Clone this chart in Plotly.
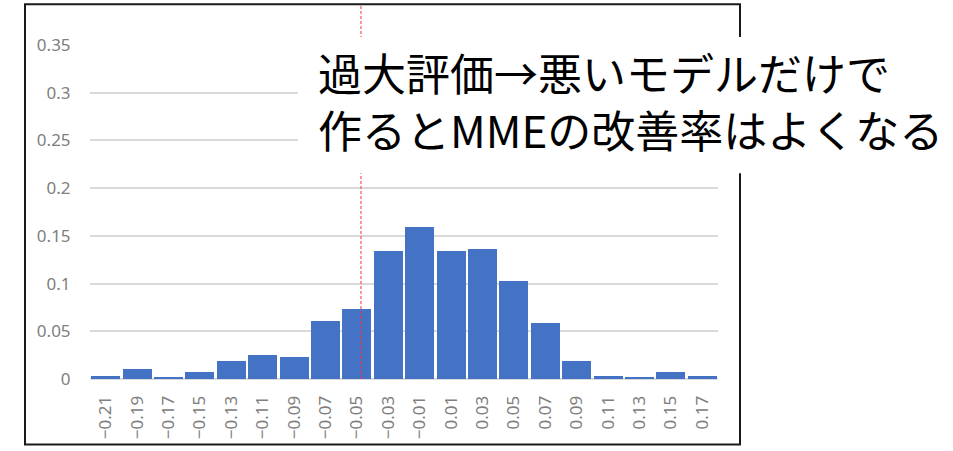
import plotly.graph_objects as go

# Histogram bins (bin centres) and relative frequencies
bin_centers = [-0.21, -0.19, -0.17, -0.15, -0.13, -0.11, -0.09, -0.07, -0.05, -0.03,
               -0.01, 0.01, 0.03, 0.05, 0.07, 0.09, 0.11, 0.13, 0.15, 0.17]
frequencies = [0.003, 0.011, 0.002, 0.007, 0.019, 0.025, 0.023, 0.061, 0.073, 0.134,
               0.159, 0.134, 0.136, 0.103, 0.059, 0.019, 0.003, 0.002, 0.007, 0.003]
tick_labels = ["−0.21", "−0.19", "−0.17", "−0.15", "−0.13", "−0.11", "−0.09", "−0.07",
               "−0.05", "−0.03", "−0.01", "0.01", "0.03", "0.05", "0.07", "0.09",
               "0.11", "0.13", "0.15", "0.17"]
reference_value = -0.0474
caption_lines = ["過大評価→悪いモデルだけで", "作るとMMEの改善率はよくなる"]

W, H = 953, 451
PLOT_L, PLOT_R, PLOT_T, PLOT_B = 90, 718, 45, 381


def px_x(px):
    return (px - PLOT_L) / (PLOT_R - PLOT_L)


def px_y(py):
    return (PLOT_B - py) / (PLOT_B - PLOT_T)


fig = go.Figure(
    go.Bar(
        x=bin_centers,
        y=frequencies,
        width=0.0185,
        marker=dict(color="#4472C4", line=dict(width=0)),
        hoverinfo="x+y",
    )
)

axis_font = dict(family="Noto Sans, DejaVu Sans, sans-serif", color="#808080")

fig.update_layout(
    width=W,
    height=H,
    margin=dict(l=PLOT_L, r=W - PLOT_R, t=PLOT_T, b=H - PLOT_B),
    paper_bgcolor="white",
    plot_bgcolor="white",
    showlegend=False,
    bargap=0,
    xaxis=dict(
        range=[-0.22, 0.18],
        tickmode="array",
        tickvals=bin_centers,
        ticktext=tick_labels,
        tickangle=-90,
        tickfont=dict(size=17, **axis_font),
        ticks="outside",
        ticklen=9,
        tickcolor="white",
        showgrid=False,
        zeroline=False,
        showline=False,
    ),
    yaxis=dict(
        range=[0, 0.35],
        dtick=0.05,
        tickfont=dict(size=17, **axis_font),
        ticks="outside",
        ticklen=15,
        tickcolor="white",
        showgrid=True,
        gridcolor="#d9d9d9",
        gridwidth=1.5,
        zeroline=True,
        zerolinecolor="#d9d9d9",
        zerolinewidth=1.5,
        showline=False,
    ),
)

shapes = [
    # outer chart frame
    dict(type="rect", xref="paper", yref="paper",
         x0=px_x(25), x1=px_x(740), y0=px_y(447), y1=px_y(4),
         line=dict(color="#1a1a1a", width=2), fillcolor="rgba(0,0,0,0)", layer="above"),
    # reference value marker
    dict(type="line", xref="x", yref="paper",
         x0=reference_value, x1=reference_value, y0=0, y1=px_y(4),
         line=dict(color="#ff3030", width=1, dash="3px,2px"), layer="above"),
    # white backdrop for the caption
    dict(type="rect", xref="paper", yref="paper",
         x0=px_x(298), x1=px_x(960), y0=px_y(174), y1=px_y(37),
         line=dict(width=0), fillcolor="white", layer="above"),
]
fig.update_layout(shapes=shapes)

fig.add_annotation(
    xref="paper", yref="paper",
    x=px_x(316), y=px_y(38),
    xanchor="left", yanchor="top",
    align="left",
    showarrow=False,
    text="<br>".join(caption_lines),
    font=dict(family="Noto Sans CJK JP", size=44, color="black"),
)

fig.write_html("out.html")
